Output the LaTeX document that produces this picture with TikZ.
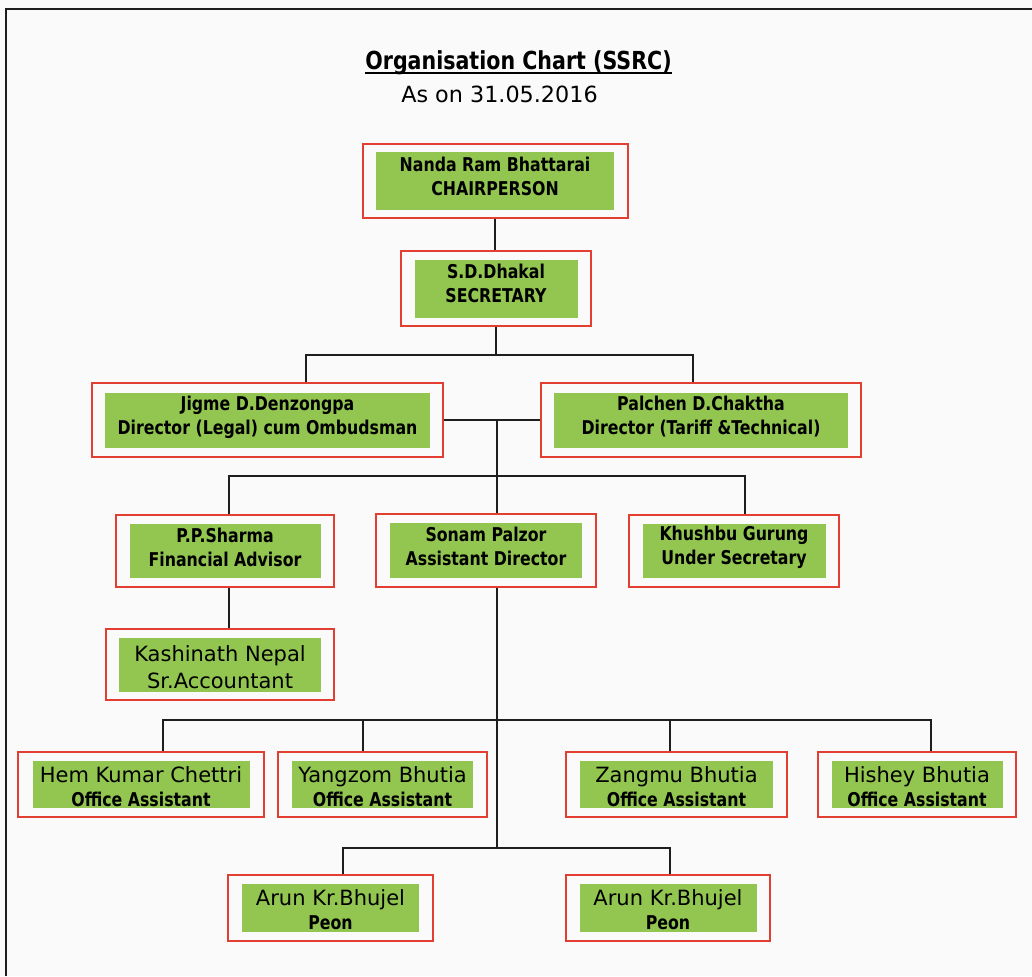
\documentclass[tikz,border=0pt]{standalone}
\usepackage{fontspec}
\setmainfont{DejaVu Sans}[FakeStretch=0.83]
\newfontfamily\regfont{DejaVu Sans}
\definecolor{boxred}{RGB}{226,62,50}
\definecolor{boxgreen}{RGB}{146,198,80}
\definecolor{lineblk}{RGB}{30,30,30}
\definecolor{bgcol}{RGB}{250,250,250}
% name, cx, cy, outer W, outer H, inner W, inner H, text y, text
\newcommand\orgbox[9]{%
  \node[outerbox,minimum width=#4pt,minimum height=#5pt] (#1) at (#2,#3) {};
  \node[innerbox,minimum width=#6pt,minimum height=#7pt] (#1-in) at (#2,#3) {};
  \node[boxtext] (#1-txt) at (#2,#8) {#9};}
\newcommand\bigline[1]{{\regfont\mdseries\fontsize{21}{25}\selectfont #1}}
\begin{document}
\begin{tikzpicture}[x=1pt,y=-1pt,
  outerbox/.style={draw=boxred,line width=2pt,inner sep=0pt},
  innerbox/.style={fill=boxgreen,inner sep=0pt},
  boxtext/.style={inner sep=0pt,align=center,text=black,
    font=\bfseries\fontsize{19}{24}\selectfont},
  conn/.style={draw=lineblk,line width=1.8pt}]
\useasboundingbox (0,0) rectangle (1032,976);
\fill[bgcol] (0,0) rectangle (1032,976);
\draw[line width=2pt,lineblk] (6,976) -- (6,9) -- (1032,9);

% title
\node[anchor=base,inner sep=0pt,font=\bfseries\fontsize{24.8}{28}\selectfont] (title) at (518.5,70) {Organisation Chart (SSRC)};
\draw[line width=1.5pt] ([yshift=-3pt]title.base west) -- ([yshift=-3pt]title.base east);
\node[anchor=base,inner sep=0pt,font=\regfont\fontsize{22.3}{26}\selectfont] (date) at (499.5,103) {As on 31.05.2016};

% boxes
\orgbox{chair}{495}{181}{265}{74}{238}{58}{176}{Nanda Ram Bhattarai\\CHAIRPERSON}
\orgbox{sec}{496}{288.5}{190}{75}{163}{58}{283.5}{S.D.Dhakal\\SECRETARY}
\orgbox{jigme}{267.5}{420}{351}{74}{325}{55}{417}{Jigme D.Denzongpa\\Director (Legal) cum Ombudsman}
\orgbox{palchen}{701}{420}{320}{74}{294}{55}{417}{Palchen D.Chaktha\\Director (Tariff \&Technical)}
\orgbox{pp}{225}{551}{218}{72}{191}{54}{547}{P.P.Sharma\\Financial Advisor}
\orgbox{sonam}{486}{550.5}{220}{73}{192}{55}{546.5}{Sonam Palzor\\Assistant Director}
\orgbox{khushbu}{734}{551}{210}{72}{183}{54}{547.5}{Khushbu Gurung\\Under Secretary}
\orgbox{kash}{220}{664.5}{228}{71}{202}{54}{667}{\bigline{Kashinath Nepal}\\[3pt]\bigline{Sr.Accountant}}
\orgbox{hem}{141}{784.5}{246}{65}{217}{47}{787}{\bigline{Hem Kumar Chettri}\\Office Assistant}
\orgbox{yang}{382.5}{784.5}{209}{65}{181}{47}{787}{\bigline{Yangzom Bhutia}\\Office Assistant}
\orgbox{zang}{676.5}{784.5}{221}{65}{193}{47}{787}{\bigline{Zangmu Bhutia}\\Office Assistant}
\orgbox{hishey}{917}{784.5}{198}{65}{171}{47}{787}{\bigline{Hishey Bhutia}\\Office Assistant}
\orgbox{arunA}{330.5}{908}{205}{66}{177}{48}{910}{\bigline{Arun Kr.Bhujel}\\Peon}
\orgbox{arunB}{668}{908}{204}{66}{177}{48}{910}{\bigline{Arun Kr.Bhujel}\\Peon}

% junction coordinates
\coordinate (jL) at (306,355);
\coordinate (jR) at (693,355);
\coordinate (m1) at (497,420);
\coordinate (h2L) at (229,476);
\coordinate (h2R) at (745,476);
\coordinate (h3L) at (163,720);
\coordinate (h3b) at (363,720);
\coordinate (h3c) at (670,720);
\coordinate (h3R) at (931,720);
\coordinate (h4L) at (343,848);
\coordinate (h4R) at (670,848);

% connectors
\draw[conn] (chair.south) -- (chair.south |- sec.north);
\draw[conn] (sec.south) -- (sec.south |- jL);
\draw[conn] (jigme.north -| jL) -- (jL) -- (jR) -- (palchen.north -| jR);
\draw[conn] (jigme.east) -- (palchen.west);
\draw[conn] (m1) -- (sonam.north -| m1);
\draw[conn] (pp.north -| h2L) -- (h2L) -- (h2R) -- (khushbu.north -| h2R);
\draw[conn] (pp.south -| h2L) -- (kash.north -| h2L);
\draw[conn] (sonam.south -| m1) -- (m1 |- h4L);
\draw[conn] (hem.north -| h3L) -- (h3L) -- (h3R) -- (hishey.north -| h3R);
\draw[conn] (h3b) -- (yang.north -| h3b);
\draw[conn] (h3c) -- (zang.north -| h3c);
\draw[conn] (arunA.north -| h4L) -- (h4L) -- (h4R) -- (arunB.north -| h4R);
\end{tikzpicture}
\end{document}
